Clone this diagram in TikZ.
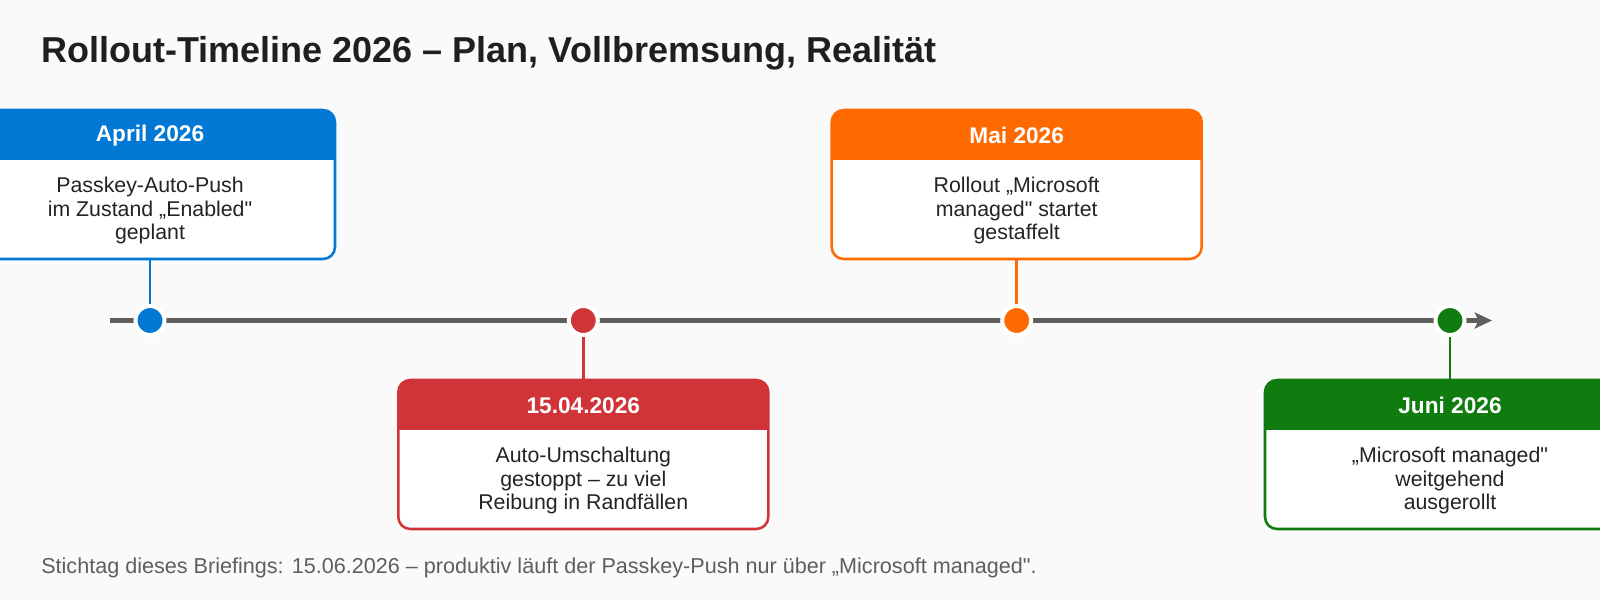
\documentclass[tikz,border=0pt]{standalone}
\usepackage{fontspec}
\setmainfont{Liberation Sans}[Ligatures=TeXOff]
\usetikzlibrary{arrows.meta}
\definecolor{bgc}{HTML}{FAFAFA}
\definecolor{inkc}{HTML}{201F1E}
\definecolor{textc}{HTML}{252423}
\definecolor{axisc}{HTML}{605E5C}
\definecolor{aprc}{HTML}{0078D4}
\definecolor{stopc}{HTML}{D13438}
\definecolor{maic}{HTML}{FF6A00}
\definecolor{junc}{HTML}{107C10}
\begin{document}
\begin{tikzpicture}[x=0.75pt,y=-0.75pt,
    evbox/.style={draw=#1, line width=1.9pt, fill=white, rounded corners=9pt,
      minimum width=277.5pt, minimum height=111.75pt, inner sep=0pt,
      path picture={\fill[#1, sharp corners] (path picture bounding box.north west)
        rectangle ([yshift=-37.5pt]path picture bounding box.north east);}},
    hdr/.style={text=white, font=\bfseries\fontsize{17}{20}\selectfont},
    body/.style={text=textc, align=center, font=\fontsize{16}{17.4}\selectfont},
    dot/.style={circle, fill=#1, draw=white, line width=3pt, minimum size=21.75pt, inner sep=0pt},
    conn/.style={draw=#1, line width=2.2pt},
    axis/.style={draw=axisc, line width=3.75pt, -{Stealth[length=13pt,width=12pt,inset=3pt]}}]
    \fill[bgc] (0,0) rectangle (1600,600);
    \useasboundingbox (0,0) rectangle (1600,600);
    \node[anchor=base west, inner sep=0pt, text=inkc, font=\bfseries\fontsize{27}{31}\selectfont] (title) at (41,62.3)
      {Rollout-Timeline 2026 – Plan, Vollbremsung, Realität};
    \coordinate (tstart) at (110,320.5);
    \coordinate (tend) at (1492,320.5);
    \draw[axis] (tstart) -- (tend);
    \node[dot=aprc] (d1) at (150,320.5) {};
    \node[dot=stopc] (d2) at (583.3,320.5) {};
    \node[dot=maic] (d3) at (1016.7,320.5) {};
    \node[dot=junc] (d4) at (1450,320.5) {};
    \node[evbox=aprc] (b1) at (150,184.5) {};
    \node[evbox=stopc] (b2) at (583.3,454.5) {};
    \node[evbox=maic] (b3) at (1016.7,184.5) {};
    \node[evbox=junc] (b4) at (1450,454.5) {};
    \draw[conn=aprc] (b1.south) -- (d1);
    \draw[conn=stopc] (d2) -- (b2.north);
    \draw[conn=maic] (b3.south) -- (d3);
    \draw[conn=junc] (d4) -- (b4.north);
    \node[hdr] (h1) at ([yshift=-20.25pt]b1.north) {April 2026};
    \node[hdr] (h2) at ([yshift=-20.25pt]b2.north) {15.04.2026};
    \node[hdr] (h3) at ([yshift=-20.25pt]b3.north) {Mai 2026};
    \node[hdr] (h4) at ([yshift=-20.25pt]b4.north) {Juni 2026};
    \node[body] (t1) at ([yshift=-19.5pt]b1.center) {Passkey-Auto-Push\\im Zustand „Enabled"\\geplant};
    \node[body] (t2) at ([yshift=-19.5pt]b2.center) {Auto-Umschaltung\\gestoppt – zu viel\\Reibung in Randfällen};
    \node[body] (t3) at ([yshift=-19.5pt]b3.center) {Rollout „Microsoft\\managed" startet\\gestaffelt};
    \node[body] (t4) at ([yshift=-19.5pt]b4.center) {„Microsoft managed"\\weitgehend\\ausgerollt};
    \node[anchor=base west, inner sep=0pt, text=axisc, font=\fontsize{16.2}{19}\selectfont] (note) at (41,573)
      {Stichtag dieses Briefings: 15.06.2026 – produktiv läuft der Passkey-Push nur über „Microsoft managed".};
\end{tikzpicture}
\end{document}
